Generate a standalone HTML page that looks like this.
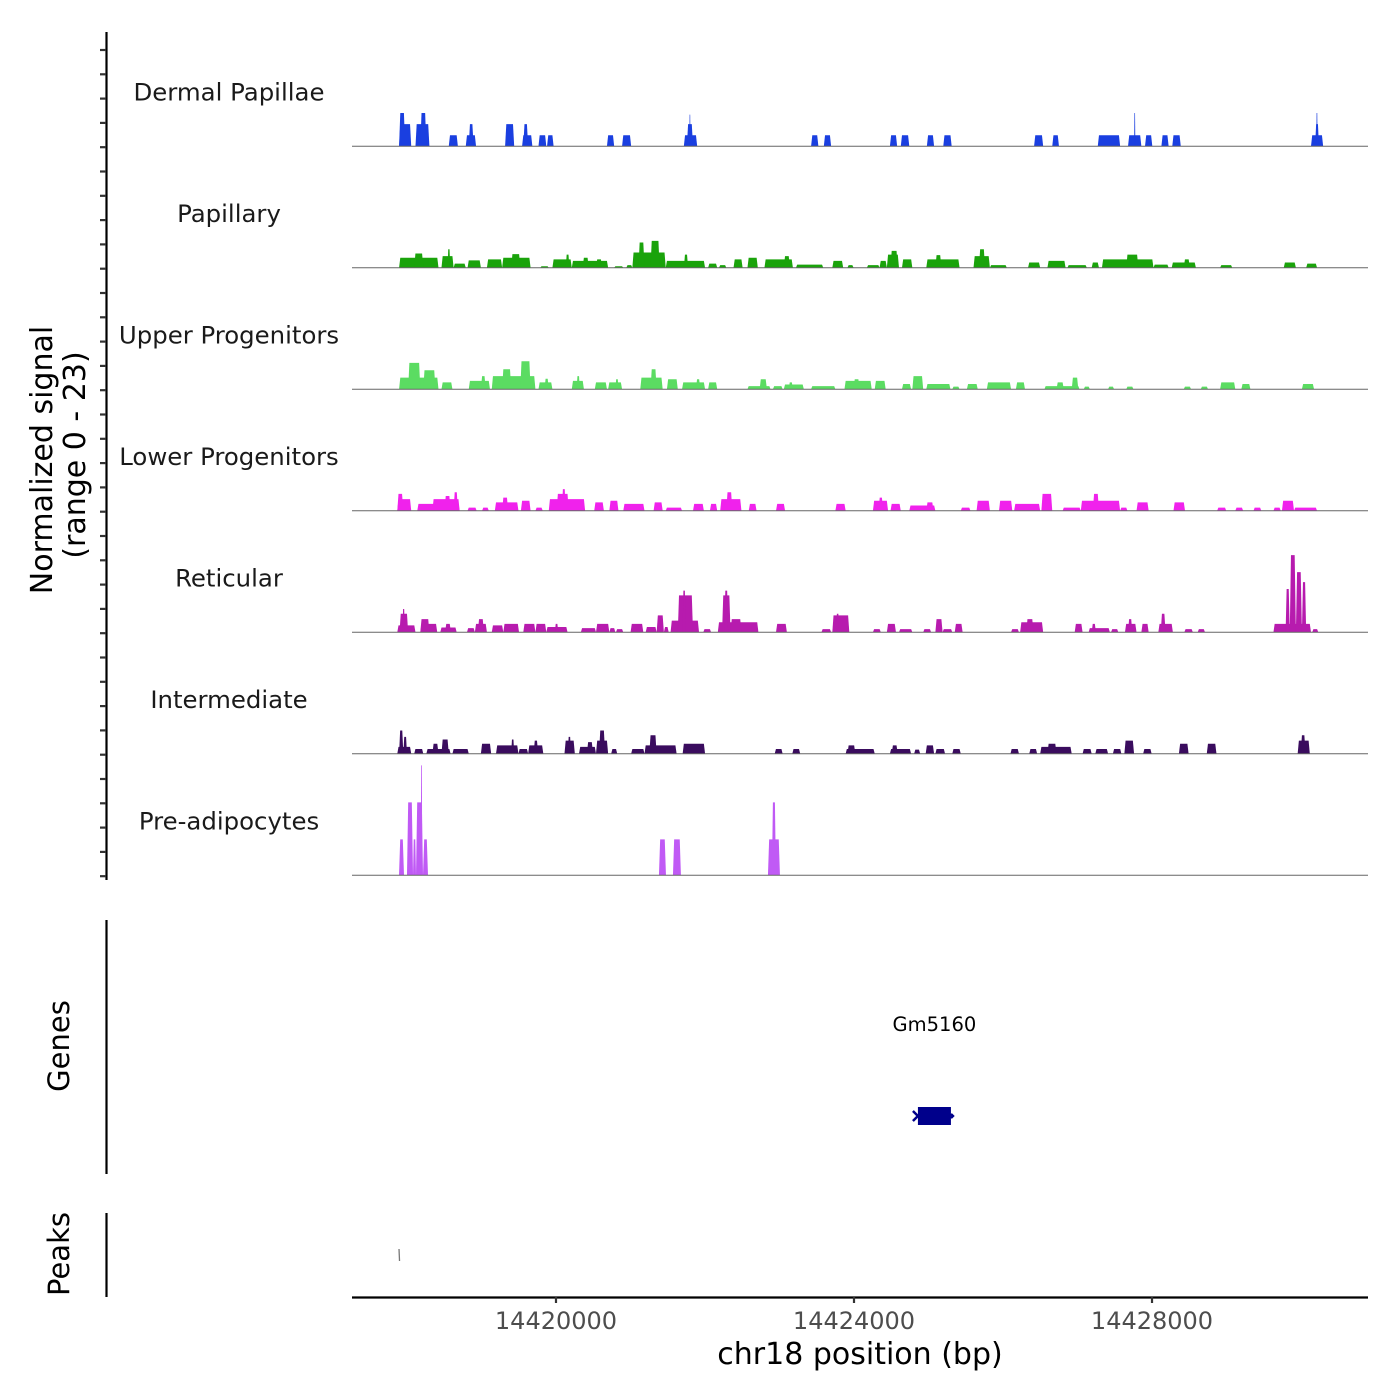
<!DOCTYPE html>
<html>
<head>
<meta charset="utf-8">
<style>
html,body{margin:0;padding:0;background:#fff;}
svg{display:block;font-family:"DejaVu Sans","Liberation Sans",sans-serif;}
</style>
</head>
<body>
<svg id="chart" width="1400" height="1400" viewBox="0 0 1400 1400" xmlns="http://www.w3.org/2000/svg">
<g id="tracks"></g>
<g id="axes">
  <line x1="106.5" y1="32" x2="106.5" y2="880" stroke="#000" stroke-width="2.2"/>
  <line x1="106.5" y1="920" x2="106.5" y2="1174" stroke="#000" stroke-width="2.2"/>
  <line x1="106.5" y1="1213" x2="106.5" y2="1297" stroke="#000" stroke-width="2.2"/>
  <line x1="352" y1="1297.5" x2="1368" y2="1297.5" stroke="#000" stroke-width="2.2"/>
  <text transform="translate(52,460) rotate(-90)" text-anchor="middle" font-size="30">Normalized signal</text>
  <text transform="translate(85,455) rotate(-90)" text-anchor="middle" font-size="30">(range 0 - 23)</text>
  <text transform="translate(69,1046) rotate(-90)" text-anchor="middle" font-size="29">Genes</text>
  <text transform="translate(69,1254) rotate(-90)" text-anchor="middle" font-size="29">Peaks</text>
  <text x="860" y="1364" text-anchor="middle" font-size="30">chr18 position (bp)</text>
</g>
</svg>
<script>
const xTicks = [14420000, 14424000, 14428000];
const trackNames = ["Dermal Papillae","Papillary","Upper Progenitors","Lower Progenitors","Reticular","Intermediate","Pre-adipocytes"];
const trackColors = ["#1a3fe0","#1aa30b","#5bdc62","#f022ec","#b71bae","#3a0c5e","#c05af5"];
const yMax = 23;
// segments: [start bp, end bp, normalized signal]
const dermalPapillae = [[14417894,14417975,6.3],[14417894,14418057,4.2],[14418114,14418301,4.2],[14418179,14418260,6.3],[14418561,14418683,2.1],[14418789,14418927,2.1],[14418829,14418894,4.2],[14419317,14419439,4.2],[14419545,14419683,2.1],[14419561,14419626,4.2],[14419765,14419870,2.1],[14419880,14419968,2.1],[14420684,14420781,2.1],[14420887,14421009,2.1],[14421716,14421895,2.1],[14421757,14421839,4.2],[14421790,14421805,6.0],[14423424,14423522,2.1],[14423595,14423693,2.1],[14424482,14424579,2.1],[14424628,14424742,2.1],[14424978,14425075,2.1],[14425198,14425311,2.1],[14426417,14426539,2.1],[14426661,14426751,2.1],[14427272,14427572,2.1],[14427678,14427857,2.1],[14427760,14427776,6.3],[14427906,14428004,2.1],[14428126,14428223,2.1],[14428272,14428386,2.1],[14430134,14430297,2.1],[14430190,14430240,4.2],[14430205,14430222,6.3]];
const papillary = [[14417894,14418423,1.9],[14418097,14418219,2.7],[14418463,14418626,2.2],[14418545,14418580,3.5],[14418626,14418789,0.8],[14418813,14418992,1.4],[14419073,14419277,1.6],[14419277,14419659,1.9],[14419399,14419521,2.6],[14419789,14419903,0.3],[14419952,14420212,1.6],[14420131,14420180,2.5],[14420212,14420700,1.3],[14420358,14420440,1.9],[14420537,14420619,1.6],[14420781,14420903,0.3],[14420944,14421025,0.5],[14421025,14421473,2.9],[14421107,14421188,4.8],[14421269,14421391,5.1],[14421473,14422001,1.3],[14421717,14421773,2.5],[14422042,14422164,0.8],[14422188,14422286,0.5],[14422383,14422505,1.6],[14422570,14422709,1.9],[14422798,14423180,1.6],[14423058,14423140,2.2],[14423221,14423587,0.6],[14423709,14423855,1.3],[14423912,14423994,0.5],[14424173,14424343,0.5],[14424343,14424441,1.3],[14424441,14424604,2.5],[14424490,14424587,3.2],[14424644,14424783,1.6],[14424970,14425417,1.6],[14425092,14425173,2.4],[14425604,14425824,2.2],[14425677,14425759,3.5],[14425824,14426051,0.5],[14426336,14426499,1.0],[14426596,14426840,1.3],[14426865,14427125,0.5],[14427190,14427288,1.0],[14427328,14428020,1.6],[14427654,14427816,2.5],[14428020,14428223,0.6],[14428264,14428589,1.0],[14428426,14428508,1.6],[14428914,14429077,0.5],[14429768,14429931,1.0],[14430069,14430215,0.8]];
const upperProgenitors = [[14417894,14418423,2.2],[14418016,14418179,5.0],[14418219,14418382,3.6],[14418463,14418610,1.3],[14418829,14419114,1.6],[14418992,14419057,2.5],[14419138,14419724,2.5],[14419277,14419399,3.8],[14419521,14419659,5.3],[14419765,14419952,1.3],[14419846,14419903,2.0],[14420212,14420375,1.6],[14420277,14420320,2.5],[14420521,14420684,1.3],[14420700,14420887,1.3],[14420797,14420840,1.9],[14421131,14421432,2.2],[14421269,14421351,3.8],[14421489,14421635,1.9],[14421692,14422001,1.3],[14421879,14421936,1.9],[14422042,14422164,1.3],[14422570,14422880,0.6],[14422733,14422831,1.9],[14422912,14423042,0.6],[14423058,14423327,0.9],[14423124,14423180,1.3],[14423424,14423750,0.6],[14423872,14424238,1.6],[14423994,14424075,1.9],[14424278,14424425,1.6],[14424644,14424766,1.0],[14424783,14424929,2.5],[14424970,14425295,1.0],[14425319,14425417,0.5],[14425515,14425661,1.0],[14425783,14426108,1.3],[14426173,14426295,1.3],[14426556,14427027,0.6],[14426718,14426816,1.3],[14426922,14427011,2.2],[14427084,14427166,0.5],[14427410,14427491,0.5],[14427654,14427751,0.5],[14428426,14428524,0.5],[14428654,14428752,0.5],[14428914,14429118,1.3],[14429199,14429321,1.0],[14430012,14430175,1.0]];
const lowerProgenitors = [[14417870,14418057,2.2],[14417870,14417950,3.2],[14418138,14418707,1.3],[14418341,14418707,2.2],[14418504,14418585,2.8],[14418626,14418683,3.5],[14418813,14418935,0.6],[14419008,14419098,0.6],[14419179,14419496,1.6],[14419277,14419358,2.5],[14419529,14419659,1.9],[14419724,14419822,0.6],[14419903,14420391,2.2],[14420009,14420171,3.2],[14420080,14420130,4.1],[14420513,14420643,1.6],[14420716,14420838,1.9],[14420903,14421188,1.3],[14421310,14421432,1.6],[14421473,14421692,0.6],[14421839,14421985,1.3],[14422066,14422164,1.3],[14422204,14422489,2.2],[14422286,14422367,3.5],[14422587,14422692,1.3],[14422953,14423075,1.3],[14423750,14423888,1.3],[14424254,14424457,1.9],[14424330,14424390,2.5],[14424490,14424628,1.3],[14424742,14425092,1.0],[14424970,14425067,1.6],[14425433,14425563,0.6],[14425645,14425824,1.9],[14425946,14426125,1.9],[14426149,14426499,1.3],[14426515,14426661,3.2],[14426800,14427044,0.6],[14427044,14427572,1.9],[14427206,14427288,3.2],[14427572,14427670,0.6],[14427792,14427955,1.6],[14428288,14428443,1.6],[14428874,14428996,0.6],[14429118,14429223,0.6],[14429362,14429467,0.6],[14429630,14429728,0.6],[14429744,14429906,1.9],[14429906,14430215,0.6]];
const reticular = [[14417870,14418114,1.3],[14417900,14418016,3.5],[14417940,14417970,4.4],[14418179,14418406,1.6],[14418179,14418301,2.5],[14418447,14418667,0.9],[14418511,14418590,1.6],[14418805,14418911,0.8],[14418911,14419073,1.6],[14418951,14419033,2.5],[14419138,14419293,1.3],[14419293,14419504,1.6],[14419561,14419724,1.6],[14419724,14419870,1.6],[14419870,14420155,1.0],[14419985,14420030,1.6],[14420334,14420537,0.8],[14420537,14420716,1.6],[14420716,14420797,0.8],[14420805,14420903,0.6],[14421001,14421172,1.6],[14421204,14421351,1.0],[14421351,14421448,3.2],[14421448,14421513,1.0],[14421538,14421920,2.2],[14421635,14421839,7.0],[14421700,14421740,7.9],[14421977,14422082,0.6],[14422172,14422717,1.9],[14422229,14422343,7.0],[14422260,14422310,7.9],[14422343,14422489,2.5],[14422953,14423099,1.6],[14423563,14423693,0.6],[14423709,14423937,3.2],[14423760,14423800,3.5],[14424254,14424360,0.6],[14424441,14424563,1.6],[14424604,14424783,0.6],[14424929,14425035,0.6],[14425092,14425189,2.5],[14425189,14425319,0.6],[14425352,14425458,1.6],[14426108,14426214,0.6],[14426230,14426539,1.9],[14426312,14426409,2.5],[14426962,14427068,1.6],[14427149,14427434,0.8],[14427190,14427247,1.6],[14427450,14427548,0.6],[14427637,14427792,1.6],[14427678,14427735,2.5],[14427857,14427955,1.6],[14428085,14428280,1.6],[14428117,14428182,3.5],[14428434,14428548,0.6],[14428613,14428711,0.6],[14429630,14430134,1.6],[14429793,14429849,8.2],[14429849,14429931,14.6],[14429931,14430012,11.4],[14430012,14430069,9.5],[14430150,14430232,0.6]];
const intermediate = [[14417870,14418057,1.3],[14417894,14417951,4.4],[14417951,14418000,3.2],[14418097,14418219,0.9],[14418260,14418585,0.9],[14418341,14418423,1.9],[14418463,14418561,2.7],[14418610,14418829,0.9],[14418992,14419130,1.9],[14419195,14419496,1.6],[14419399,14419439,2.7],[14419496,14419626,0.9],[14419626,14419830,1.6],[14419700,14419760,2.5],[14420114,14420253,2.5],[14420160,14420200,3.2],[14420309,14420537,1.3],[14420415,14420497,2.2],[14420537,14420700,2.5],[14420578,14420659,4.4],[14420741,14420822,0.9],[14421009,14421188,0.9],[14421188,14421619,1.6],[14421253,14421351,3.5],[14421700,14422001,1.9],[14422936,14423042,0.9],[14423172,14423278,0.9],[14423888,14424278,0.9],[14423912,14424018,1.6],[14424482,14424766,0.9],[14424506,14424587,1.6],[14424807,14424888,0.8],[14424962,14425075,1.6],[14425092,14425222,0.9],[14425319,14425433,0.9],[14426100,14426214,0.9],[14426352,14426458,0.9],[14426499,14426922,1.3],[14426596,14426718,1.9],[14427068,14427190,0.9],[14427239,14427410,0.9],[14427475,14427589,0.9],[14427629,14427759,2.5],[14427881,14427995,0.9],[14428361,14428491,1.9],[14428735,14428865,1.9],[14429955,14430118,2.5],[14429996,14430061,3.5]];
const preAdipocytes = [[14417893,14417960,6.8],[14418000,14418081,13.8],[14418081,14418121,6.8],[14418121,14418215,13.8],[14418185,14418205,20.8],[14418215,14418282,6.8],[14421382,14421476,6.8],[14421570,14421677,6.8],[14422845,14423006,6.8],[14422898,14422952,13.8]];
const trackData = [dermalPapillae, papillary, upperProgenitors, lowerProgenitors, reticular, intermediate, preAdipocytes];
const geneName = ["Gm5160"];
const geneStart = [14424858];
const geneEnd = [14425301];
const peakStart = [14417893];
const peakEnd = [14417900];

const NS = "http://www.w3.org/2000/svg";
const xMin = 14417262, xMaxBp = 14430899;
const plotL = 352, plotR = 1368;
function xScale(bp){ return plotL + (bp - xMin) / (xMaxBp - xMin) * (plotR - plotL); }
const trackTop = 25, trackH = 121.5;
function baseY(i){ return trackTop + (i+1)*trackH - 0.2; }
function yScale(i, v){ return baseY(i) - v / yMax * trackH; }

const tracksG = document.getElementById('tracks');
const axesG = document.getElementById('axes');

for (let k = 0; k < 35; k++) {
  const ty = 50 + k*24.3;
  if (ty > 878) break;
  const t = document.createElementNS(NS,'line');
  
  
  t.setAttribute('x1', 100); t.setAttribute('x2', 106);
  t.setAttribute('y1', ty); t.setAttribute('y2', ty);
  t.setAttribute('stroke', '#333'); t.setAttribute('stroke-width', 2.2);
  axesG.appendChild(t);
}

trackData.forEach((segs, i) => {
  const g = document.createElementNS(NS,'g');
  
  
  tracksG.appendChild(g);
  const label = document.createElementNS(NS,'text');
  
  
  label.setAttribute('x', 229);
  label.setAttribute('y', baseY(i) - 46);
  label.setAttribute('text-anchor', 'middle');
  label.setAttribute('font-size', '24.4');
  label.setAttribute('fill', '#1a1a1a');
  label.textContent = trackNames[i];
  g.appendChild(label);
  segs.forEach(s => {
    const x1 = xScale(s[0]), x2 = xScale(s[1]);
    const yTop = yScale(i, s[2]), yb = baseY(i);
    const p = document.createElementNS(NS,'path');
    
    
    const sl = Math.min(1.2, (x2-x1)/4);
    p.setAttribute('d', `M${x1} ${yb}L${x1+sl} ${yTop}L${x2-sl} ${yTop}L${x2} ${yb}Z`);
    p.setAttribute('fill', trackColors[i]);
    g.appendChild(p);
  });
  const bl = document.createElementNS(NS,'line');
  
  
  bl.setAttribute('x1', plotL); bl.setAttribute('x2', plotR);
  bl.setAttribute('y1', baseY(i)); bl.setAttribute('y2', baseY(i));
  bl.setAttribute('stroke', '#666'); bl.setAttribute('stroke-width', 1);
  g.appendChild(bl);
});

geneName.forEach((n, i) => {
  const x1 = xScale(geneStart[i]), x2 = xScale(geneEnd[i]);
  const r = document.createElementNS(NS,'rect');
  
  
  r.setAttribute('x', x1); r.setAttribute('y', 1107);
  r.setAttribute('width', x2-x1); r.setAttribute('height', 18);
  r.setAttribute('fill', '#00008b');
  tracksG.appendChild(r);
  const a = document.createElementNS(NS,'path');
  
  
  a.setAttribute('d', `M${x1-5} 1111L${x1} 1116L${x1-5} 1121M${x2} 1114L${x2+2} 1116L${x2} 1118`);
  a.setAttribute('stroke', '#00008b'); a.setAttribute('stroke-width', 2.5); a.setAttribute('fill','none');
  tracksG.appendChild(a);
  const t = document.createElementNS(NS,'text');
  
  
  t.setAttribute('x', (x1+x2)/2); t.setAttribute('y', 1031);
  t.setAttribute('text-anchor', 'middle'); t.setAttribute('font-size', '19.5');
  t.textContent = n;
  tracksG.appendChild(t);
});

peakStart.forEach((s, i) => {
  const x = xScale(s);
  const l = document.createElementNS(NS,'line');
  
  
  l.setAttribute('x1', x); l.setAttribute('x2', Math.max(x, xScale(peakEnd[i])));
  l.setAttribute('y1', 1249); l.setAttribute('y2', 1261);
  l.setAttribute('stroke', '#777'); l.setAttribute('stroke-width', 1.3);
  tracksG.appendChild(l);
});

xTicks.forEach(v => {
  const x = xScale(v);
  const t = document.createElementNS(NS,'line');
  
  
  t.setAttribute('x1', x); t.setAttribute('x2', x);
  t.setAttribute('y1', 1297); t.setAttribute('y2', 1303);
  t.setAttribute('stroke', '#333'); t.setAttribute('stroke-width', 2.2);
  axesG.appendChild(t);
  const lb = document.createElementNS(NS,'text');
  
  
  lb.setAttribute('x', x); lb.setAttribute('y', 1329);
  lb.setAttribute('text-anchor', 'middle'); lb.setAttribute('font-size', '24');
  lb.setAttribute('fill', '#4d4d4d');
  lb.textContent = v;
  axesG.appendChild(lb);
});
</script>
</body>
</html>
